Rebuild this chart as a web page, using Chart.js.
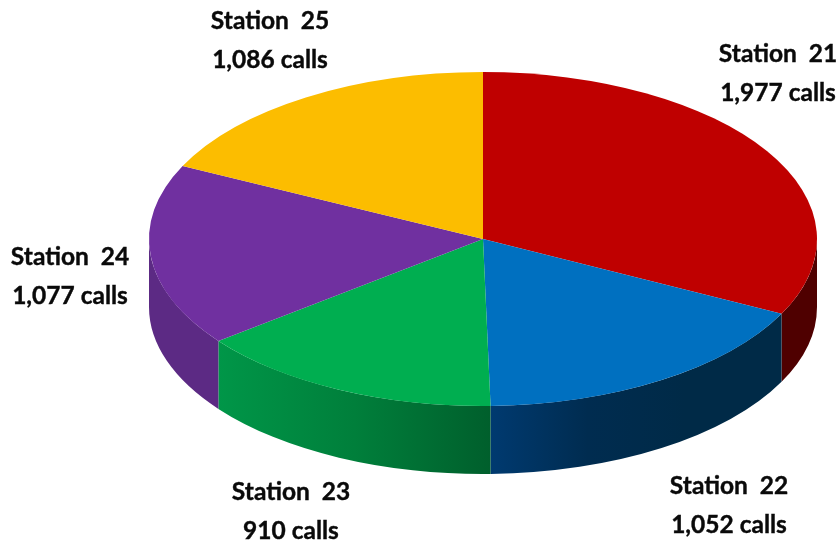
<!DOCTYPE html>
<html>
<head>
<meta charset="utf-8">
<title>Calls by station</title>
<script src="https://cdn.jsdelivr.net/npm/chart.js@4"></script>
<style>
    html, body { margin: 0; padding: 0; background: #fff; overflow: hidden; }
    #wrap { position: relative; width: 840px; height: 543px; }
</style>
</head>
<body>
<div id="wrap"><canvas id="pieChart" width="840" height="543"></canvas></div>
<script>
const stations = ["Station  21", "Station  22", "Station  23", "Station  24", "Station  25"];
const calls = [1977, 1052, 910, 1077, 1086];
const topColors = ["#bf0000", "#0070c0", "#00ae50", "#7030a0", "#fcbd00"];

// side wall shades, evenly spaced from the left end to the right end of each slice
const wallColors = [
    ["#4f0000", "#4f0000"],
    ["#003a70", "#002c50", "#002a47", "#002a47"],
    ["#009648", "#007f3b", "#005f2c"],
    ["#5c2a84", "#5c2a84"],
    ["#000000", "#000000"]
];

// where the two lines of each label sit
const labelX = [778, 729, 291, 70, 270];
const labelY = [54, 486, 492, 257, 21];
const lineGap = 39.5;

const squash = 0.5;
const depth = 68;

function drawWalls(ctx, arcs) {
    arcs.forEach((arc, i) => {
        // only the part of a slice on the near side of the pie shows a wall
        const from = Math.max(arc.startAngle, 0);
        const to = Math.min(arc.endAngle, Math.PI);
        if (to <= from) return;
        const rx = arc.outerRadius;
        const ry = rx * squash;
        const x1 = arc.x + rx * Math.cos(to);
        const x2 = arc.x + rx * Math.cos(from);
        const grad = ctx.createLinearGradient(x1, 0, x2, 0);
        const shades = wallColors[i];
        shades.forEach((c, k) => grad.addColorStop(k / (shades.length - 1), c));
        ctx.beginPath();
        ctx.ellipse(arc.x, arc.y, rx, ry, 0, from, to);
        ctx.ellipse(arc.x, arc.y + depth, rx, ry, 0, to, from, true);
        ctx.closePath();
        ctx.fillStyle = grad;
        ctx.fill();
    });
}

const tiltPlugin = {
    id: 'tilt',
    beforeDatasetsDraw(chart) {
        const ctx = chart.ctx;
        const arcs = chart.getDatasetMeta(0).data;
        drawWalls(ctx, arcs);
        ctx.save();
        ctx.translate(arcs[0].x, arcs[0].y);
        ctx.scale(1, squash);
        ctx.translate(-arcs[0].x, -arcs[0].y);
    },
    afterDatasetsDraw(chart) {
        chart.ctx.restore();
    },
    afterDraw(chart) {
        const ctx = chart.ctx;
        ctx.save();
        ctx.font = 'bold 24.5px Lato';
        ctx.fillStyle = '#0a0a0a';
        ctx.strokeStyle = '#0a0a0a';
        ctx.lineWidth = 0.4;
        ctx.textAlign = 'center';
        ctx.textBaseline = 'middle';
        stations.forEach((name, i) => {
            const count = calls[i].toLocaleString('en-US') + ' calls';
            ctx.fillText(name, labelX[i], labelY[i]);
            ctx.strokeText(name, labelX[i], labelY[i]);
            ctx.fillText(count, labelX[i], labelY[i] + lineGap);
            ctx.strokeText(count, labelX[i], labelY[i] + lineGap);
        });
        ctx.restore();
    }
};

new Chart(document.getElementById('pieChart'), {
    type: 'pie',
    data: {
        labels: stations,
        datasets: [{
            data: calls,
            backgroundColor: topColors,
            borderWidth: 0,
            radius: 334,
            clip: false
        }]
    },
    options: {
        responsive: false,
        animation: false,
        devicePixelRatio: 1,
        layout: { padding: { left: 126, right: 0, top: 0, bottom: 65 } },
        plugins: {
            legend: { display: false },
            tooltip: { enabled: false }
        }
    },
    plugins: [tiltPlugin]
});
</script>
</body>
</html>
